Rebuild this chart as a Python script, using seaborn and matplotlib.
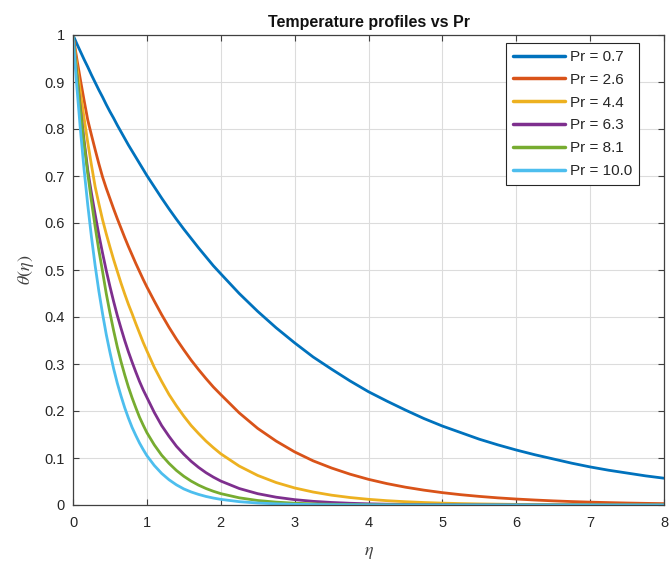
import numpy as np
import pandas as pd
import matplotlib
matplotlib.use("Agg")
import matplotlib.pyplot as plt
import seaborn as sns

# ---- data ----
eta = [0.0, 0.05, 0.1, 0.15, 0.2, 0.25, 0.3, 0.35, 0.4, 0.45, 0.5, 0.55, 0.6, 0.65, 0.7,
       0.75, 0.8, 0.85, 0.9, 0.95, 1.0,
       1.1, 1.2, 1.3, 1.4, 1.5, 1.6, 1.7, 1.8, 1.9, 2.0,
       2.25, 2.5, 2.75, 3.0, 3.25, 3.5, 3.75, 4.0, 4.25, 4.5, 4.75, 5.0, 5.25, 5.5,
       5.75, 6.0, 6.25, 6.5, 6.75, 7.0, 7.25, 7.5, 7.75, 8.0]

theta_pr07 = [1.000, 0.982, 0.965, 0.948, 0.932, 0.915, 0.899, 0.883, 0.868, 0.852, 0.837,
              0.823, 0.808, 0.794, 0.780, 0.766, 0.753, 0.740, 0.727, 0.714, 0.701,
              0.677, 0.653, 0.630, 0.608, 0.587, 0.567, 0.547, 0.528, 0.509, 0.492,
              0.450, 0.412, 0.377, 0.345, 0.315, 0.289, 0.264, 0.241, 0.221, 0.202, 0.184,
              0.168, 0.154, 0.140, 0.128, 0.117, 0.107, 0.098, 0.089, 0.081, 0.074, 0.068,
              0.062, 0.057]
theta_pr26 = [1.000, 0.951, 0.905, 0.861, 0.819, 0.787, 0.756, 0.726, 0.698, 0.674, 0.652,
              0.630, 0.609, 0.589, 0.569, 0.550, 0.532, 0.514, 0.497, 0.480, 0.464,
              0.434, 0.405, 0.378, 0.353, 0.330, 0.308, 0.288, 0.269, 0.251, 0.235,
              0.196, 0.163, 0.136, 0.113, 0.094, 0.0787, 0.0656, 0.0546, 0.0455, 0.0379,
              0.0316, 0.0263, 0.0219, 0.0183, 0.0152, 0.0127, 0.0106, 0.0088, 0.0073,
              0.0061, 0.0051, 0.0042, 0.0035, 0.0029]
theta_pr44 = [1.000, 0.937, 0.878, 0.823, 0.771, 0.723, 0.677, 0.641, 0.607, 0.577, 0.549,
              0.522, 0.497, 0.472, 0.449, 0.427, 0.407, 0.386, 0.366, 0.346, 0.328,
              0.293, 0.263, 0.235, 0.211, 0.189, 0.169, 0.152, 0.136, 0.122, 0.109,
              0.0828, 0.0629, 0.0478, 0.0363, 0.0276, 0.0209, 0.0159, 0.0121, 0.0092, 0.0070,
              0.0053, 0.0040, 0.0030, 0.0023, 0.0018, 0.0013, 0.0010, 0.0008, 0.0006,
              0.0005, 0.0003, 0.0003, 0.0002, 0.0002]
theta_pr63 = [1.000, 0.919, 0.844, 0.775, 0.712, 0.663, 0.618, 0.575, 0.536, 0.499, 0.465,
              0.433, 0.403, 0.376, 0.350, 0.326, 0.304, 0.283, 0.263, 0.245, 0.229,
              0.197, 0.169, 0.146, 0.125, 0.108, 0.0929, 0.0800, 0.0688, 0.0593, 0.0510,
              0.0351, 0.0241, 0.0166, 0.0114, 0.0078, 0.0054, 0.0037, 0.0025, 0.0017, 0.0012,
              0.0008, 0.0006, 0.0004, 0.0003, 0.0002, 0.0001, 0.0001, 0.0001, 0.0,
              0.0, 0.0, 0.0, 0.0, 0.0]
theta_pr81 = [1.000, 0.916, 0.839, 0.769, 0.705, 0.646, 0.592, 0.542, 0.497, 0.450, 0.409,
              0.371, 0.336, 0.305, 0.277, 0.251, 0.228, 0.207, 0.187, 0.170, 0.154,
              0.128, 0.106, 0.0885, 0.0735, 0.0611, 0.0508, 0.0422, 0.0351, 0.0292, 0.0242,
              0.0153, 0.0096, 0.0061, 0.0038, 0.0024, 0.0015, 0.0010, 0.0006, 0.0004, 0.0002,
              0.0002, 0.0001, 0.0001, 0.0, 0.0, 0.0, 0.0, 0.0, 0.0,
              0.0, 0.0, 0.0, 0.0, 0.0]
theta_pr100 = [1.000, 0.894, 0.799, 0.714, 0.638, 0.570, 0.509, 0.455, 0.407, 0.363, 0.325,
               0.290, 0.259, 0.232, 0.207, 0.185, 0.165, 0.148, 0.132, 0.118, 0.105,
               0.0842, 0.0672, 0.0537, 0.0429, 0.0342, 0.0277, 0.0225, 0.0182, 0.0148, 0.0120,
               0.0071, 0.0042, 0.0025, 0.0015, 0.0009, 0.0005, 0.0003, 0.0002, 0.0001, 0.0001,
               0.0, 0.0, 0.0, 0.0, 0.0, 0.0, 0.0, 0.0, 0.0,
               0.0, 0.0, 0.0, 0.0, 0.0]

series_labels = ["Pr = 0.7", "Pr = 2.6", "Pr = 4.4", "Pr = 6.3", "Pr = 8.1", "Pr = 10.0"]
series_values = [theta_pr07, theta_pr26, theta_pr44, theta_pr63, theta_pr81, theta_pr100]
colors = ["#0072BD", "#D95319", "#EDB120", "#7E2F8E", "#77AC30", "#4DBEEE"]

x_ticks = [0, 1, 2, 3, 4, 5, 6, 7, 8]
x_tick_labels = ["0", "1", "2", "3", "4", "5", "6", "7", "8"]
y_ticks = [0, 0.1, 0.2, 0.3, 0.4, 0.5, 0.6, 0.7, 0.8, 0.9, 1.0]
y_tick_labels = ["0", "0.1", "0.2", "0.3", "0.4", "0.5", "0.6", "0.7", "0.8", "0.9", "1"]

title = "Temperature profiles vs Pr"
xlabel = r"$\eta$"
ylabel = r"$\theta(\eta)$"

# ---- long-form table ----
rows = []
for lab, vals in zip(series_labels, series_values):
    for x, y in zip(eta, vals):
        rows.append({"eta": x, "theta": y, "series": lab})
df = pd.DataFrame(rows)

sns.set_theme(style="white")
plt.rcParams["font.family"] = ["Liberation Sans", "DejaVu Sans"]
plt.rcParams["mathtext.fontset"] = "stix"

fig = plt.figure(figsize=(6.69, 5.66), dpi=100)
ax = fig.add_axes([73 / 669, 61 / 566, 591 / 669, 470 / 566])

sns.lineplot(data=df, x="eta", y="theta", hue="series", hue_order=series_labels,
             palette=colors, linewidth=2.0, ax=ax, sort=False, estimator=None)
for ln in ax.get_lines():
    ln.set_solid_joinstyle("round")

ax.set_xlim(0, 8)
ax.set_ylim(0, 1)
ax.set_xticks(x_ticks)
ax.set_xticklabels(x_tick_labels)
ax.set_yticks(y_ticks)
ax.set_yticklabels(y_tick_labels)

ax.grid(True, color="#dcdcdc", linewidth=0.8)
ax.set_axisbelow(True)
for sp in ax.spines.values():
    sp.set_visible(True)
    sp.set_color("#404040")
    sp.set_linewidth(0.9)

ax.tick_params(axis="both", which="both", direction="in", length=4, width=0.8,
               color="#404040", labelcolor="#262626", labelsize=10.5,
               top=True, right=True, bottom=True, left=True)
ax.tick_params(axis="x", pad=8)
ax.tick_params(axis="y", pad=6)

ax.set_xlabel(xlabel, fontsize=13, color="#404040", labelpad=10)
ax.set_ylabel(ylabel, fontsize=13, color="#404040", labelpad=6)
ax.set_title(title, fontsize=11.5, fontweight="bold", color="#111111", pad=6)

leg = ax.legend(loc="upper right", bbox_to_anchor=(0.958, 0.983), fontsize=11,
                frameon=True, fancybox=False, framealpha=1, edgecolor="#262626",
                handlelength=3.4, handletextpad=0.35, labelspacing=0.58,
                borderpad=0.45, borderaxespad=0.0)
leg.get_frame().set_linewidth(0.8)
for line in leg.get_lines():
    line.set_linewidth(2.5)

fig.savefig("out.png", dpi=100)
